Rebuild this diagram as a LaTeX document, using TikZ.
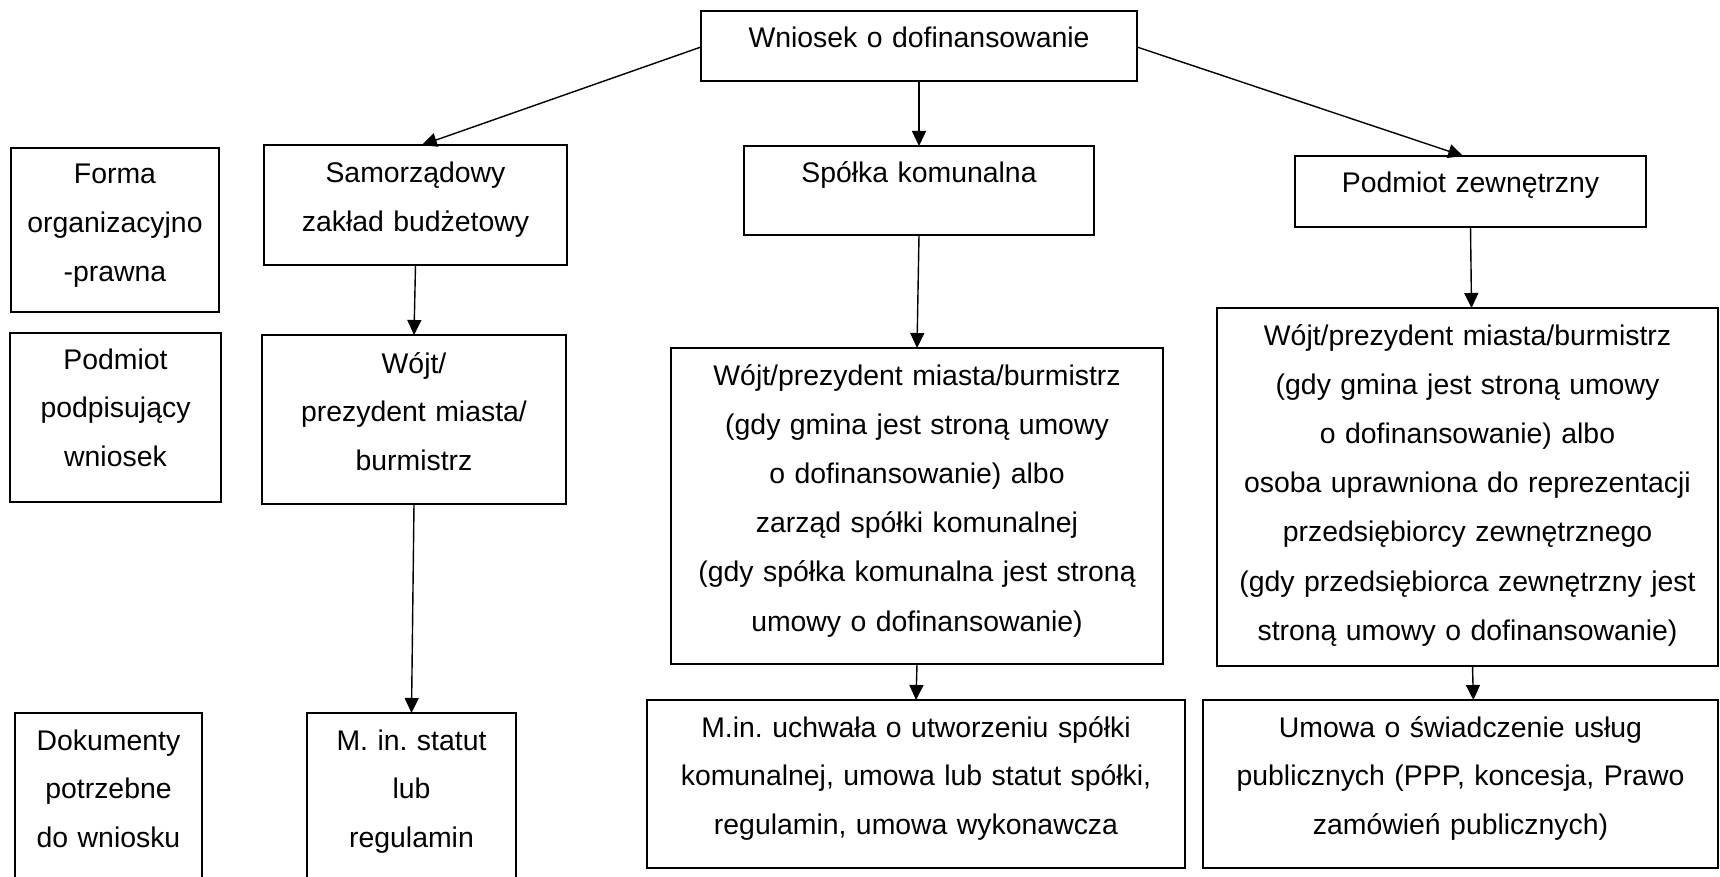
\documentclass[tikz,border=0pt]{standalone}
\usepackage{fontspec}
\setmainfont{Liberation Sans}
\usetikzlibrary{arrows.meta,calc}
\frenchspacing
\begin{document}
\begin{tikzpicture}[x=1pt,y=-1pt,
  box/.style={draw=black,line width=1.8pt,inner sep=0pt,outer sep=0pt,rectangle},
  txt/.style={inner sep=0pt,outer sep=0pt,align=center,anchor=base,
    font=\fontsize{28.4}{48.6}\selectfont\frenchspacing},
  txtw/.style={txt,font=\fontsize{28.4}{49.2}\selectfont\frenchspacing},
  arr/.style={line width=1.4pt,-{Triangle[length=15pt,width=14pt]}}]
\useasboundingbox (0,0) rectangle (1720,877);
\clip (0,0) rectangle (1720,877);
\fill[white] (0,0) rectangle (1720,877);

% boxes
\node[box,minimum width=436pt,minimum height=70pt] (wn) at (919,46) {};
\node[box,minimum width=208pt,minimum height=164pt] (forma) at (115,230) {};
\node[box,minimum width=303pt,minimum height=120pt] (sam) at (415.5,205) {};
\node[box,minimum width=350pt,minimum height=89pt] (spk) at (919,190.5) {};
\node[box,minimum width=351pt,minimum height=71pt] (pz) at (1470.5,191.5) {};
\node[box,minimum width=211pt,minimum height=169pt] (podp) at (115.5,417.5) {};
\node[box,minimum width=304pt,minimum height=169pt] (wl) at (414,419.5) {};
\node[box,minimum width=492pt,minimum height=316pt] (wm) at (917,506) {};
\node[box,minimum width=501pt,minimum height=358pt] (wr) at (1467.5,487) {};
\node[box,minimum width=187pt,minimum height=190pt] (dok) at (108.5,808) {};
\node[box,minimum width=209pt,minimum height=190pt] (stat) at (411.5,808) {};
\node[box,minimum width=538pt,minimum height=168pt] (uch) at (916,784) {};
\node[box,minimum width=515pt,minimum height=168pt] (umo) at (1460.5,784) {};

% texts
\node[txt,text width=420pt] (wnt) at (919,48) {Wniosek o dofinansowanie};
\node[txt,text width=200pt] (format) at (115,184) {Forma\\organizacyjno\\-prawna};
\node[txt,text width=295pt] (samt) at (415.5,183) {Samorządowy\\zakład budżetowy};
\node[txt,text width=340pt] (spkt) at (919,183) {Spółka komunalna};
\node[txt,text width=340pt] (pzt) at (1470.5,193) {Podmiot zewnętrzny};
\node[txt,text width=200pt] (podpt) at (115.5,369) {Podmiot\\podpisujący\\wniosek};
\node[txt,text width=295pt] (wlt) at (414,373) {Wójt/\\prezydent miasta/\\burmistrz};
\node[txtw,text width=485pt] (wmt) at (917,385) {Wójt/prezydent miasta/burmistrz\\(gdy gmina jest stroną umowy\\o dofinansowanie) albo\\zarząd spółki komunalnej\\(gdy spółka komunalna jest stroną\\umowy o dofinansowanie)};
\node[txtw,text width=495pt] (wrt) at (1467.5,345) {Wójt/prezydent miasta/burmistrz\\(gdy gmina jest stroną umowy\\o dofinansowanie) albo\\osoba uprawniona do reprezentacji\\przedsiębiorcy zewnętrznego\\(gdy przedsiębiorca zewnętrzny jest\\stroną umowy o dofinansowanie)};
\node[txt,text width=180pt] (dokt) at (108.5,750) {Dokumenty\\potrzebne\\do wniosku};
\node[txt,text width=200pt] (statt) at (411.5,750) {M. in. statut\\lub\\regulamin};
\node[txt,text width=530pt] (ucht) at (916,737) {M.in. uchwała o utworzeniu spółki\\komunalnej, umowa lub statut spółki,\\regulamin, umowa wykonawcza};
\node[txt,text width=505pt] (umot) at (1460.5,737) {Umowa o świadczenie usług\\publicznych (PPP, koncesja, Prawo\\zamówień publicznych)};

% connectors
\coordinate (samin) at ($(sam.north west)!0.521!(sam.north east)$);
\coordinate (pzin) at ($(pz.north west)!0.479!(pz.north east)$);
\coordinate (pzout) at ($(pz.south west)!0.50!(pz.south east)$);
\coordinate (wrin) at ($(wr.north west)!0.508!(wr.north east)$);
\coordinate (wrout) at ($(wr.south west)!0.51!(wr.south east)$);
\coordinate (umoin) at ($(umo.north west)!0.525!(umo.north east)$);
\draw[arr] ($(wn.west)+(0,1)$) -- (samin);
\draw[arr] (wn.south) -- (spk.north);
\draw[arr] ($(wn.east)+(0,1)$) -- (pzin);
\draw[arr] (sam.south) -- (wl.north);
\draw[arr] (spk.south) -- (wm.north);
\draw[arr] (pzout) -- (wrin);
\draw[arr] (wl.south) -- (stat.north);
\draw[arr] (wm.south) -- (uch.north);
\draw[arr] (wrout) -- (umoin);
\end{tikzpicture}
\end{document}
